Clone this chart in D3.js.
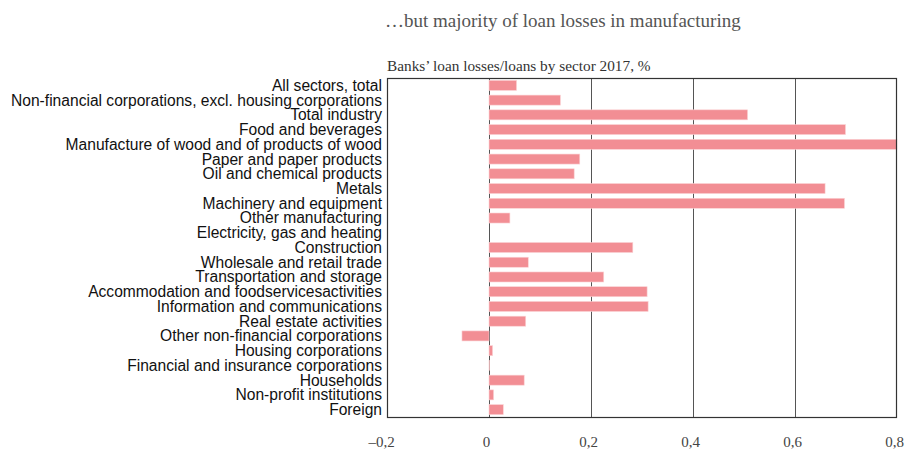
<!DOCTYPE html>
<html>
<head>
<meta charset="utf-8">
<script src="https://cdn.jsdelivr.net/npm/d3@7"></script>
<style>
  body { margin: 0; background: #fff; }
  .cat text { font-family: "Liberation Sans", Arial, sans-serif; font-size: 15.6px; fill: #111; }
  .x text { font-family: "Liberation Serif", serif; font-size: 15px; fill: #444; }
</style>
</head>
<body>
<svg id="chart" width="905" height="450"></svg>
<script>
// Sector names, top to bottom
var sectors = [
  'All sectors, total',
  'Non-financial corporations, excl. housing corporations',
  'Total industry',
  'Food and beverages',
  'Manufacture of wood and of products of wood',
  'Paper and paper products',
  'Oil and chemical products',
  'Metals',
  'Machinery and equipment',
  'Other manufacturing',
  'Electricity, gas and heating',
  'Construction',
  'Wholesale and retail trade',
  'Transportation and storage',
  'Accommodation and foodservicesactivities',
  'Information and communications',
  'Real estate activities',
  'Other non-financial corporations',
  'Housing corporations',
  'Financial and insurance corporations',
  'Households',
  'Non-profit institutions',
  'Foreign'
];

// Loan losses / loans, %
var losses = [0.054, 0.14, 0.507, 0.699, 0.8, 0.178, 0.167, 0.659, 0.697, 0.041, 0,
  0.282, 0.077, 0.225, 0.31, 0.312, 0.072, -0.053, 0.007, 0.001, 0.069, 0.009, 0.028];

var xTicks = [-0.2, 0, 0.2, 0.4, 0.6, 0.8];

var title = '\u2026but majority of loan losses in manufacturing';
var subtitle = 'Banks\u2019 loan losses/loans by sector 2017, %';

var svg = d3.select('#chart');
var margin = {top: 78, right: 8, bottom: 33, left: 387};
var width = 905 - margin.left - margin.right;
var height = 450 - margin.top - margin.bottom;

var data = sectors.map(function(s, i) { return {sector: s, value: losses[i]}; });

// Scales
var xScale = d3.scaleLinear().domain([-0.2, 0.8]).range([0, width]);
var yScale = d3.scaleBand().domain(sectors).range([0, height]).paddingInner(0.32).paddingOuter(0.16);

// Titles
svg.append('text')
  .attr('x', 385).attr('y', 27)
  .style('font-family', '"Liberation Serif", serif')
  .style('font-size', '19px')
  .style('fill', '#555')
  .text(title);

svg.append('text')
  .attr('x', 387).attr('y', 71)
  .style('font-family', '"Liberation Serif", serif')
  .style('font-size', '15.3px')
  .style('fill', '#333')
  .text(subtitle);

var area = svg.append('g')
  .attr('transform', 'translate(' + margin.left + ',' + margin.top + ')');

// Vertical grid lines
area.selectAll('.grid')
  .data(xTicks.slice(1, -1))
  .enter()
  .append('line')
  .attr('class', 'grid')
  .attr('x1', function(d) { return Math.round(xScale(d)) + 0.5; })
  .attr('x2', function(d) { return Math.round(xScale(d)) + 0.5; })
  .attr('y1', 0).attr('y2', height)
  .attr('stroke', '#555').attr('stroke-width', 1);

// Bars
area.selectAll('.bar')
  .data(data)
  .enter()
  .append('rect')
  .attr('class', 'bar')
  .attr('x', function(d) { return xScale(Math.min(0, d.value)); })
  .attr('width', function(d) { return Math.abs(xScale(d.value) - xScale(0)); })
  .attr('y', function(d) { return yScale(d.sector); })
  .attr('height', yScale.bandwidth())
  .attr('fill', '#f28e94')
  .attr('stroke', '#fbd3d5')
  .attr('stroke-width', 0.6);

// Frame
area.append('rect')
  .attr('x', 0.5).attr('y', 0.5)
  .attr('width', width - 1).attr('height', height)
  .attr('fill', 'none')
  .attr('stroke', '#333').attr('stroke-width', 1.2);

// Category labels
var cat = area.append('g').attr('class', 'cat');
cat.selectAll('text')
  .data(data)
  .enter()
  .append('text')
  .attr('x', -5)
  .attr('y', function(d) { return yScale(d.sector) + yScale.bandwidth() / 2; })
  .attr('dy', '0.35em')
  .attr('text-anchor', 'end')
  .text(function(d) { return d.sector; });

// X axis tick labels
var fmt = function(d) { return (d < 0 ? '\u2013' : '') + d3.format('.1f')(Math.abs(d)).replace('.', ','); };
var xAxis = d3.axisBottom(xScale).tickValues(xTicks).tickSize(0).tickPadding(19)
  .tickFormat(function(d) { return d === 0 ? '0' : fmt(d); });
area.append('g')
  .attr('class', 'x')
  .attr('transform', 'translate(0,' + height + ')')
  .call(xAxis)
  .call(function(g) { g.select('.domain').remove(); })
  .selectAll('text')
  .style('font-family', '"Liberation Serif", serif')
  .style('font-size', '15px')
  .attr('dx', function(d) { return d === -0.2 ? -6 : -3; });
</script>
</body>
</html>
